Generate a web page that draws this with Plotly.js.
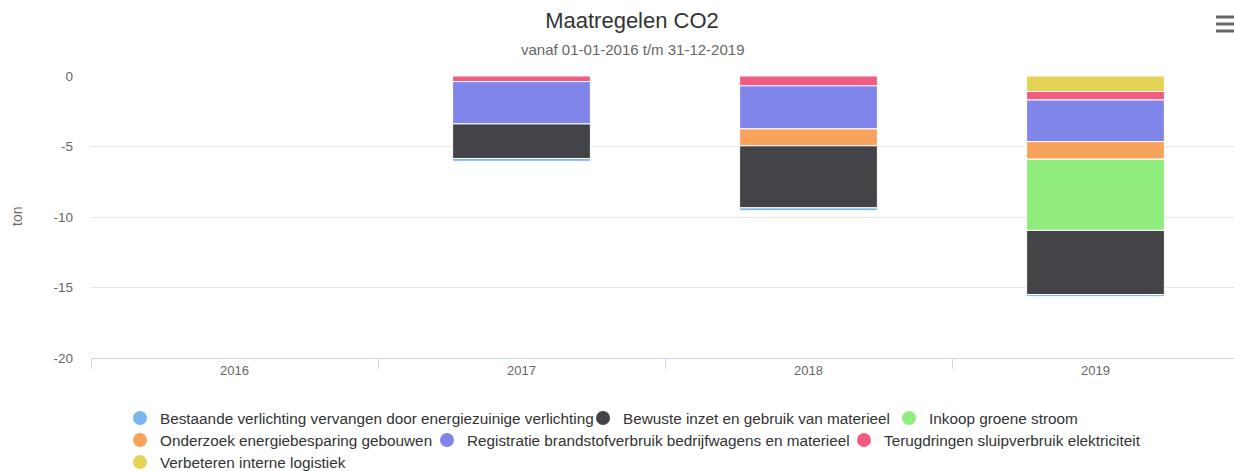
<!DOCTYPE html>
<html>
<head>
<meta charset="utf-8">
<script src="https://cdn.plot.ly/plotly-3.0.1.min.js"></script>
<style>
html,body{margin:0;padding:0;overflow:hidden;background:#fff;}
#chart{width:1240px;height:471px;}
</style>
</head>
<body>
<div id="chart"></div>
<script>
// Categories (years)
const years = ['2016', '2017', '2018', '2019'];

// Series values (ton CO2); null = no bar
const bestaande    = [null, -0.2,  -0.2,  -0.15];
const bewuste      = [null, -2.45, -4.4,  -4.55];
const inkoop       = [null, null,  null,  -5.05];
const onderzoek    = [null, null,  -1.2,  -1.25];
const registratie  = [null, -3.0,  -3.05, -2.95];
const terugdringen = [null, -0.4,  -0.7,  -0.6];
const verbeteren   = [null, null,  null,  -1.1];

// Y tick labels (hyphen-minus as in the original)
const yTickVals = [0, -5, -10, -15, -20];
const yTickText = ['0', '-5', '-10', '-15', '-20'];

// Series names in legend order
const seriesNames = [
  'Bestaande verlichting vervangen door energiezuinige verlichting',
  'Bewuste inzet en gebruik van materieel',
  'Inkoop groene stroom',
  'Onderzoek energiebesparing gebouwen',
  'Registratie brandstofverbruik bedrijfwagens en materieel',
  'Terugdringen sluipverbruik elektriciteit',
  'Verbeteren interne logistiek'
];
const seriesValues = [bestaande, bewuste, inkoop, onderzoek, registratie, terugdringen, verbeteren];
const seriesColors = ['#7cb5ec', '#434348', '#90ed7d', '#f7a35c', '#8085e9', '#f15c80', '#e4d354'];

const FONT = '"Liberation Sans", Arial, sans-serif';
const W = 1240, H = 471;

// legend positions (circle centre in px)
const legendPos = [
  [140, 418], [603, 418], [909, 418],
  [140, 440], [447, 440], [864, 440],
  [140, 462]
];

const traces = [];
// bars: stacked from zero outward, so last series first
for (let i = seriesNames.length - 1; i >= 0; i--) {
  traces.push({
    type: 'bar',
    x: years,
    y: seriesValues[i],
    name: seriesNames[i],
    legendgroup: 'g' + i,
    showlegend: false,
    marker: {color: seriesColors[i], line: {color: '#ffffff', width: 1}},
    hoverinfo: 'x+y+name'
  });
}
// legend entries (circles)
const legendIds = ['legend', 'legend2', 'legend3', 'legend4', 'legend5', 'legend6', 'legend7'];
for (let i = 0; i < seriesNames.length; i++) {
  traces.push({
    type: 'scatter',
    mode: 'markers',
    x: [null], y: [null],
    name: seriesNames[i],
    legendgroup: 'g' + i,
    legend: legendIds[i],
    showlegend: true,
    marker: {color: seriesColors[i], size: 14, symbol: 'circle'},
    hoverinfo: 'skip'
  });
}

const layout = {
  width: W, height: H,
  margin: {l: 91, r: 1, t: 76, b: 113, pad: 0},
  paper_bgcolor: '#ffffff',
  plot_bgcolor: '#ffffff',
  barmode: 'relative',
  bargap: 0.52,
  font: {family: FONT, color: '#666666', size: 13},
  title: {
    text: 'Maatregelen CO2',
    font: {family: FONT, size: 22, color: '#333333'},
    x: 632 / W, xref: 'container', xanchor: 'center',
    y: 1 - 20 / H, yref: 'container', yanchor: 'middle'
  },
  xaxis: {
    type: 'category',
    range: [-0.5, 3.5],
    showgrid: false,
    showline: true, linecolor: '#ccd6eb', linewidth: 1,
    ticks: 'outside', tickson: 'boundaries', ticklen: 10, tickcolor: '#ccd6eb', tickwidth: 1,
    tickfont: {family: FONT, size: 13, color: '#666666'},
    fixedrange: true
  },
  yaxis: {
    range: [-20, 0],
    tickmode: 'array',
    tickvals: yTickVals,
    ticktext: yTickText,
    showgrid: true, gridcolor: '#e6e6e6', gridwidth: 1,
    zeroline: false,
    showline: false,
    ticks: '',
    ticklabelstandoff: 17,
    tickfont: {family: FONT, size: 13.5, color: '#666666'},
    fixedrange: true
  },
  annotations: [
    {
      text: 'vanaf 01-01-2016 t/m 31-12-2019',
      xref: 'paper', yref: 'paper',
      x: (632 - 91) / 1148, y: (358 - 50) / 282,
      xanchor: 'center', yanchor: 'middle',
      showarrow: false,
      font: {family: FONT, size: 15, color: '#666666'}
    },
    {
      text: 'ton',
      xref: 'paper', yref: 'paper',
      x: (17 - 91) / 1148, y: (358 - 217) / 282,
      xanchor: 'center', yanchor: 'middle',
      textangle: -90,
      showarrow: false,
      font: {family: FONT, size: 14, color: '#666666'}
    }
  ],
  shapes: [17, 24, 31].map(py => ({
    type: 'line', xref: 'paper', yref: 'paper',
    x0: (1216 - 91) / 1148, x1: (1234 - 91) / 1148,
    y0: (358 - py) / 282, y1: (358 - py) / 282,
    line: {color: '#666666', width: 3}
  })),
  hovermode: 'closest',
  showlegend: true
};

legendIds.forEach((id, i) => {
  layout[id] = {
    orientation: 'h',
    xref: 'container', yref: 'container',
    x: (legendPos[i][0] - 20) / W, xanchor: 'left',
    y: 1 - legendPos[i][1] / H, yanchor: 'middle',
    bgcolor: 'rgba(0,0,0,0)',
    borderwidth: 0,
    font: {family: FONT, size: 15.3, color: '#333333'},
    itemclick: false, itemdoubleclick: false
  };
});

Plotly.newPlot('chart', traces, layout, {displayModeBar: false, responsive: false});
</script>
</body>
</html>
